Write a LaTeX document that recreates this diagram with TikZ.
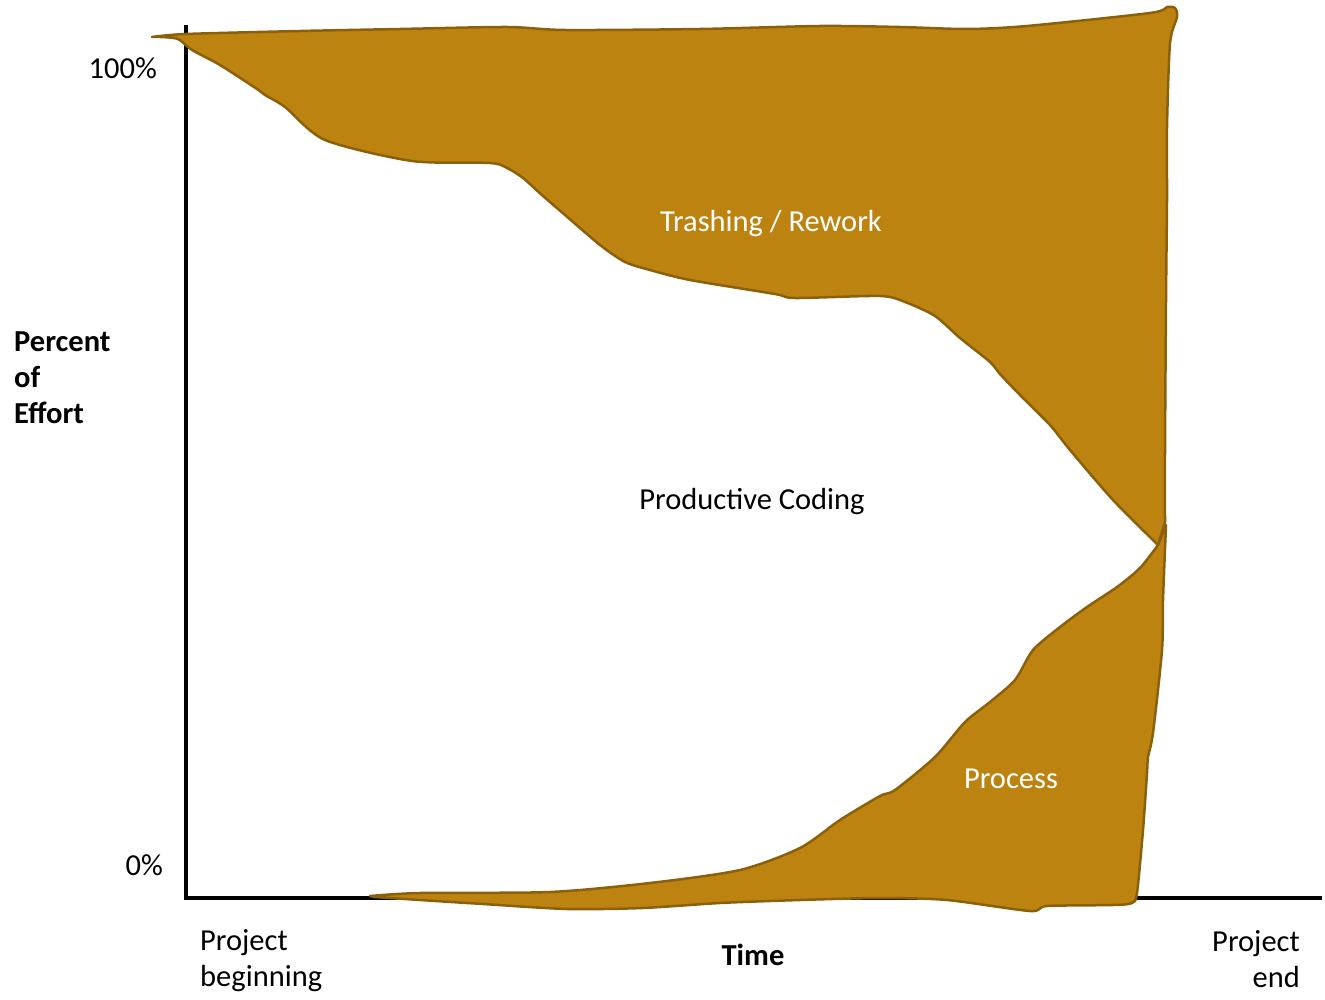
\documentclass[tikz,border=0pt]{standalone}
\usepackage{fontspec}
\setmainfont{Carlito}
\definecolor{ochre}{RGB}{189,131,17}
\definecolor{ochreline}{RGB}{140,96,10}
\tikzset{
  blob/.style={fill=ochre, draw=ochreline, line width=2.5pt, line join=round},
  axisline/.style={line width=4pt, black},
  lbl/.style={font=\fontsize{30.5}{36}\selectfont, inner sep=0pt},
  blbl/.style={font=\fontsize{30.5}{36}\selectfont\bfseries, inner sep=0pt},
}
\begin{document}
\begin{tikzpicture}[x=1pt,y=-1pt]
\useasboundingbox (0,0) rectangle (1325,1000);
% axes
\coordinate (ytop) at (186,25);
\coordinate (origin) at (186,898);
\coordinate (xend) at (1322,898);
\draw[axisline] (ytop) -- (origin) -- (xend);
% Trashing / Rework region
\path[blob] plot[smooth, tension=0.45] coordinates {(152,37) (186,34) (300,31) (400,29) (507,27) (565,30) (700,29) (820,26) (900,27) (967,29) (1027,26) (1150,13) (1167,7) (1175,8) (1177,17) (1170,43) (1167,127) (1167,200) (1166,300) (1165,450) (1165,522)}
 -- plot[smooth, tension=0.45] coordinates {(1158,545) (1113,500) (1070,450) (1050,425) (1020,395) (1000,374) (990,362) (960,338) (935,316) (905,302) (880,296) (795,298) (775,294) (690,280) (650,270) (625,262) (600,245) (565,215) (543,196) (523,178) (507,168) (490,163) (412,161) (325,140) (285,107) (265,95) (257,89) (220,65) (192,50) (178,39) (160,37)} -- cycle;
% Process region
\path[blob] plot[smooth, tension=0.45] coordinates {(370,896) (420,893) (550,892) (650,883) (740,870) (800,848) (840,820) (880,796) (895,790) (935,757) (965,722) (990,702) (1015,680) (1033,650) (1060,627) (1087,607) (1117,587) (1140,568) (1158,545)}
 -- plot[smooth, tension=0.45] coordinates {(1166,525) (1163,600) (1162,650) (1153,733) (1148,757) (1147,773) (1143,830) (1137,893) (1132,903) (1113,905) (1047,906) (1030,911) (947,900) (880,898) (800,900) (720,903) (643,908) (567,909) (483,904) (420,900) (390,898) (375,897)} -- cycle;
% labels
\node[lbl, text=white] (trash) at (771,224) {Trashing / Rework};
\node[lbl] (prod) at (752,502) {Productive Coding};
\node[lbl, text=white] (proc) at (1011,779) {Process};
\node[lbl, anchor=east] (hundred) at (157,68) {100\%};
\node[lbl, anchor=east] (zero) at (163,865) {0\%};
\node[blbl, anchor=west, align=left] (yl) at (14,378) {Percent\\of\\Effort};
\node[blbl] (time) at (753,955) {Time};
\node[lbl, anchor=west, align=left] (pb) at (200,961) {Project\\beginning};
\node[lbl, anchor=east, align=right] (pe) at (1300,959) {Project\\end};
\end{tikzpicture}
\end{document}
